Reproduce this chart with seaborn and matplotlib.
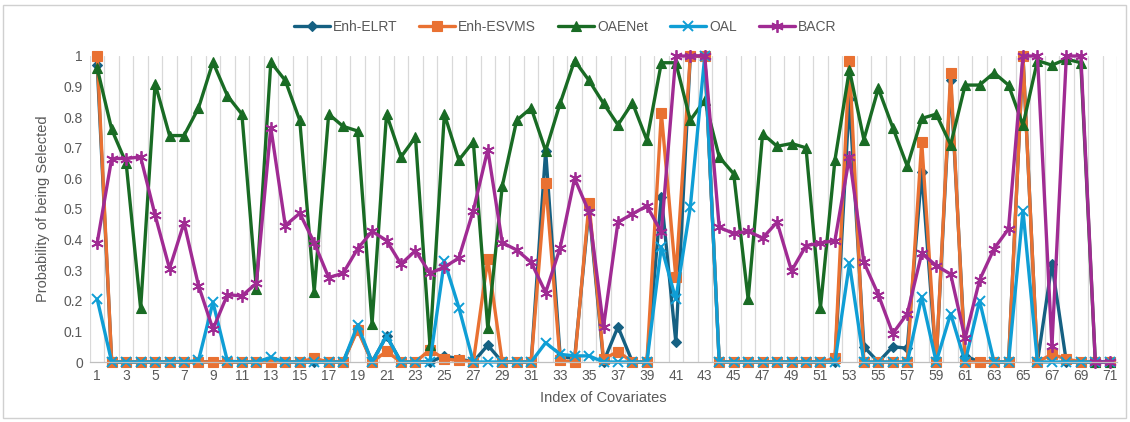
import numpy as np
import pandas as pd
import matplotlib
matplotlib.use("Agg")
import matplotlib.pyplot as plt
from matplotlib.patches import Rectangle
from matplotlib.lines import Line2D
import seaborn as sns

index = list(range(1, 72))

enh_elrt = [0.97, 0, 0, 0, 0, 0, 0, 0, 0, 0,
            0, 0, 0, 0, 0, 0, 0, 0, 0.11, 0,
            0.085, 0, 0, 0, 0.02, 0.01, 0, 0.055, 0, 0,
            0, 0.69, 0.02, 0.01, 0.50, 0, 0.115, 0, 0, 0.54,
            0.065, 1.0, 1.0, 0, 0, 0, 0, 0, 0, 0,
            0, 0, 0.86, 0.05, 0, 0.05, 0.045, 0.62, 0, 0.92,
            0.02, 0, 0, 0, 1.0, 0, 0.32, 0, 0, 0, 0]

enh_esvms = [1.0, 0, 0, 0, 0, 0, 0, 0, 0, 0,
             0, 0, 0, 0, 0, 0.012, 0, 0, 0.105, 0,
             0.035, 0, 0, 0.04, 0.01, 0.005, 0, 0.337, 0, 0,
             0, 0.585, 0.005, 0, 0.52, 0.01, 0.034, 0, 0, 0.814,
             0.277, 1.0, 1.0, 0, 0, 0, 0, 0, 0, 0,
             0, 0.012, 0.985, 0, 0, 0, 0, 0.72, 0, 0.945,
             0, 0, 0, 0, 1.0, 0, 0.025, 0.01, 0, 0, 0]

oaenet = [0.96, 0.76, 0.65, 0.175, 0.91, 0.74, 0.74, 0.83, 0.98, 0.87,
          0.81, 0.24, 0.98, 0.92, 0.79, 0.23, 0.81, 0.77, 0.755, 0.125,
          0.81, 0.67, 0.735, 0.055, 0.81, 0.66, 0.72, 0.11, 0.575, 0.79,
          0.83, 0.69, 0.845, 0.985, 0.92, 0.845, 0.775, 0.847, 0.725, 0.978,
          0.978, 0.79, 0.856, 0.67, 0.615, 0.205, 0.746, 0.705, 0.714, 0.70,
          0.178, 0.66, 0.955, 0.727, 0.894, 0.766, 0.64, 0.796, 0.81, 0.71,
          0.905, 0.905, 0.945, 0.905, 0.774, 0.985, 0.97, 0.99, 0.978, 0, 0]

oal = [0.205, 0, 0, 0, 0, 0, 0, 0.005, 0.195, 0.003,
       0, 0, 0.015, 0, 0, 0, 0, 0, 0.12, 0,
       0.085, 0, 0, 0, 0.33, 0.178, 0, 0, 0, 0,
       0, 0.063, 0.025, 0.02, 0.02, 0, 0, 0, 0, 0.377,
       0.205, 0.506, 1.0, 0, 0, 0, 0, 0, 0, 0,
       0, 0, 0.322, 0, 0, 0, 0, 0.213, 0, 0.158,
       0, 0.2, 0, 0, 0.495, 0, 0, 0, 0, 0, 0]

bacr = [0.39, 0.665, 0.665, 0.67, 0.48, 0.305, 0.455, 0.25, 0.107, 0.22,
        0.216, 0.257, 0.766, 0.446, 0.486, 0.39, 0.276, 0.29, 0.37, 0.427,
        0.397, 0.32, 0.364, 0.29, 0.31, 0.34, 0.495, 0.694, 0.39, 0.366,
        0.326, 0.227, 0.373, 0.60, 0.49, 0.115, 0.457, 0.484, 0.51, 0.424,
        1.0, 1.0, 1.0, 0.44, 0.42, 0.427, 0.405, 0.457, 0.298, 0.38,
        0.389, 0.397, 0.67, 0.326, 0.22, 0.093, 0.158, 0.355, 0.315, 0.287,
        0.077, 0.268, 0.37, 0.435, 1.0, 1.0, 0.052, 1.0, 1.0, 0, 0]

series_names = ["Enh-ELRT", "Enh-ESVMS", "OAENet", "OAL", "BACR"]
series_values = [enh_elrt, enh_esvms, oaenet, oal, bacr]
colors = ["#156082", "#E97132", "#196B24", "#0F9ED5", "#A02B93"]
styles = [
    dict(marker="D", markersize=5.5, markeredgewidth=0.8),
    dict(marker="s", markersize=7, markeredgewidth=0.8),
    dict(marker="^", markersize=7.5, markeredgewidth=0.8),
    dict(marker="x", markersize=7, markeredgewidth=1.4),
    dict(marker=(6, 2, 0), markersize=9, markeredgewidth=1.3),
]

sns.set_theme(style="white")
plt.rcParams["font.family"] = ["Liberation Sans", "DejaVu Sans"]

fig = plt.figure(figsize=(11.3, 4.22), dpi=100)
ax = fig.add_axes([90 / 1130, 1 - 362 / 422, (1117 - 90) / 1130, (362 - 56) / 422])

handles = []
for name, vals, col, st in zip(series_names, series_values, colors, styles):
    df = pd.DataFrame({"Index": index, "Prob": vals})
    sns.lineplot(data=df, x="Index", y="Prob", ax=ax, color=col, linewidth=2.4,
                 markeredgecolor=col, markerfacecolor=col, clip_on=False, **st)
    handles.append(Line2D([0], [0], color=col, linewidth=2.4, markeredgecolor=col,
                          markerfacecolor=col, **st))

ax.set_xlim(0.5, 71.5)
ax.set_ylim(0, 1)
ax.set_xticks(list(range(1, 72, 2)))
ax.set_xticklabels([str(i) for i in range(1, 72, 2)])
ax.set_yticks(np.round(np.arange(0, 1.01, 0.1), 1))
ax.set_yticklabels(["0"] + [f"{v:.1f}" for v in np.arange(0.1, 0.95, 0.1)] + ["1"])
ax.tick_params(axis="both", length=0, labelsize=10, colors="#595959", pad=5)

for gx in np.arange(0.5, 72, 1.0):
    ax.axvline(gx, color="#D9D9D9", linewidth=0.9, zorder=0)

for s in ["top", "right", "left"]:
    ax.spines[s].set_visible(False)
ax.spines["bottom"].set_color("#BFBFBF")
ax.spines["bottom"].set_linewidth(0.9)

ax.set_xlabel("Index of Covariates", fontsize=10.5, color="#595959", labelpad=6)
ax.set_ylabel("Probability of being Selected", fontsize=10.5, color="#595959", labelpad=10)

fig.legend(handles, series_names, loc="center", bbox_to_anchor=(0.5, 0.936), ncol=5,
           frameon=False, fontsize=10, handlelength=2.6, columnspacing=1.6,
           handletextpad=0.2, labelcolor="#595959")

fig.patches.append(Rectangle((3 / 1130, 4 / 422), 1 - 7 / 1130, 1 - 9 / 422,
                             transform=fig.transFigure, fill=False,
                             edgecolor="#D0D0D0", linewidth=1.0))

fig.savefig("out.png", dpi=100)
